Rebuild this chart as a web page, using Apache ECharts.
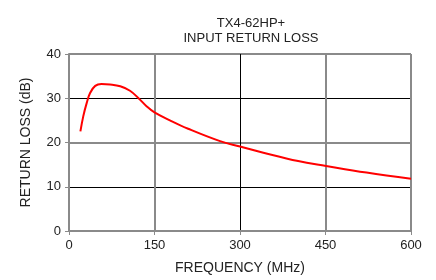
<!DOCTYPE html>
<html>
<head>
<meta charset="utf-8">
<script src="https://cdn.jsdelivr.net/npm/echarts@6/dist/echarts.min.js"></script>
<style>
  html, body { margin: 0; padding: 0; background: #fff; }
  #chart { width: 436px; height: 280px; }
</style>
</head>
<body>
<div id="chart"></div>
<script>
// frequency (MHz) vs input return loss (dB)
const freq = [20, 25, 31, 37, 46, 57, 72, 90, 107, 122, 136, 150, 177, 209, 265, 300, 341, 402, 451, 522, 600];
const loss = [22.5, 25.9, 28.9, 31.2, 32.8, 33.2, 33.1, 32.7, 31.7, 30.0, 28.2, 26.8, 25.0, 23.1, 20.3, 19.1, 17.7, 15.8, 14.7, 13.2, 11.8];

const xTicks = [0, 150, 300, 450, 600];
const yTicks = [0, 10, 20, 30, 40];

const gray = '#8a8a8a';
const font = 'Liberation Sans, Arial, sans-serif';

let chart = echarts.init(document.getElementById('chart'));

// secondary axes only draw the thin black grid lines
const thinX = {
    type: 'value',
    min: xTicks[0],
    max: xTicks[xTicks.length - 1],
    interval: 150,
    axisLine: {show: false},
    axisTick: {show: false},
    axisLabel: {show: false},
    splitLine: {lineStyle: {color: ['transparent', 'transparent', '#000', 'transparent'], width: 1}}
};
const thinY = {
    type: 'value',
    min: yTicks[0],
    max: yTicks[yTicks.length - 1],
    interval: 10,
    axisLine: {show: false},
    axisTick: {show: false},
    axisLabel: {show: false},
    splitLine: {lineStyle: {color: ['transparent', '#000'], width: 1}}
};

chart.setOption({
    animation: false,
    title: {
        text: 'TX4-62HP+\nINPUT RETURN LOSS',
        left: 246,
        top: 11,
        textAlign: 'center',
        textStyle: {
            fontFamily: font,
            fontSize: 13,
            fontWeight: 'normal',
            color: '#222',
            lineHeight: 15
        }
    },
    grid: {left: 69, right: 25, top: 54, bottom: 48},
    xAxis: [
        {
            type: 'value',
            min: xTicks[0],
            max: xTicks[xTicks.length - 1],
            interval: 150,
            name: 'FREQUENCY (MHz)',
            nameLocation: 'middle',
            nameGap: 30,
            nameTextStyle: {fontFamily: font, fontSize: 14, color: '#222'},
            axisLine: {lineStyle: {color: gray, width: 2}},
            axisTick: {length: 4, lineStyle: {color: gray, width: 1}},
            axisLabel: {fontFamily: font, fontSize: 13, color: '#222', margin: 8},
            splitLine: {lineStyle: {color: [gray, gray, 'transparent', gray], width: 2}}
        },
        thinX
    ],
    yAxis: [
        {
            type: 'value',
            min: yTicks[0],
            max: yTicks[yTicks.length - 1],
            interval: 10,
            name: 'RETURN LOSS (dB)',
            nameLocation: 'middle',
            nameGap: 36,
            nameTextStyle: {fontFamily: font, fontSize: 14, color: '#222'},
            axisLine: {show: true, lineStyle: {color: gray, width: 2}},
            axisTick: {show: true, length: 4, lineStyle: {color: gray, width: 1}},
            axisLabel: {fontFamily: font, fontSize: 13, color: '#222', margin: 8},
            splitLine: {lineStyle: {color: [gray, 'transparent'], width: 2}}
        },
        thinY
    ],
    series: [
        {
            type: 'line',
            xAxisIndex: 0,
            yAxisIndex: 0,
            data: freq.map((f, i) => [f, loss[i]]),
            smooth: 0.4,
            showSymbol: false,
            lineStyle: {color: '#ff0000', width: 2}
        }
    ]
});
</script>
</body>
</html>
